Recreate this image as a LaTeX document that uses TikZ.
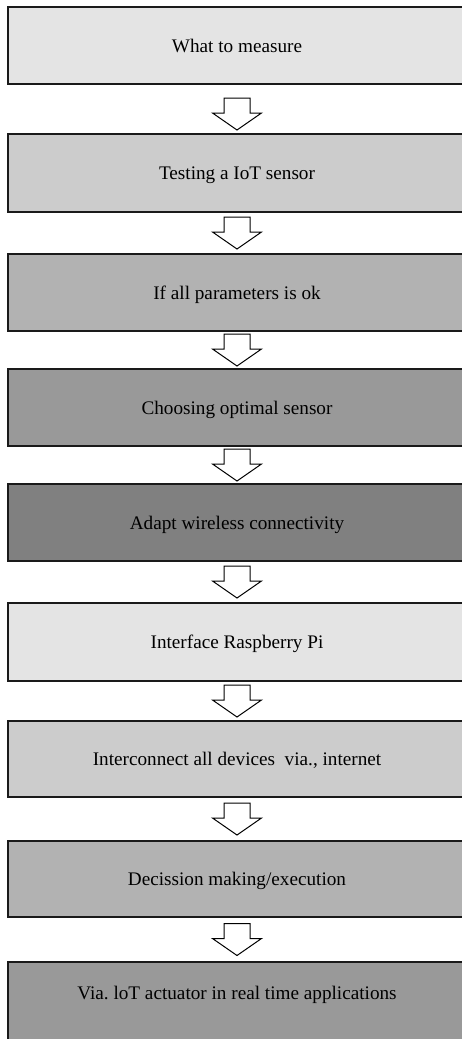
\documentclass[tikz,border=0pt]{standalone}
\usepackage{fontspec}
\setmainfont{Liberation Serif}
\usetikzlibrary{calc}
\definecolor{g1}{HTML}{E4E4E4}
\definecolor{g2}{HTML}{CCCCCC}
\definecolor{g3}{HTML}{B2B2B2}
\definecolor{g4}{HTML}{999999}
\definecolor{g5}{HTML}{808080}
\definecolor{edge}{HTML}{1A1A1A}
\newcommand\blockarrow[3][0]{%
  \draw[arrowshape] ($(#2.south)!0.5!(#3.north)+(0,#1)$) ++(-13,-16) -- ++(26,0) -- ++(0,15) -- ++(11.5,0) -- ++(-24.5,17) -- ++(-24.5,-17) -- ++(11.5,0) -- cycle;}
\begin{document}
\begin{tikzpicture}[x=1pt,y=-1pt,
  stepbox/.style={draw=edge, line width=1.3pt, minimum width=458pt, inner sep=0pt,
    font=\fontsize{19.2}{22}\selectfont\frenchspacing, text height=13.5pt, text depth=0pt},
  arrowshape/.style={draw=black, line width=1pt, fill=white, line join=miter}]
\useasboundingbox (0,0) rectangle (462,1039);
\fill[white] (0,0) rectangle (462,1039);
\node[stepbox, fill=g1, minimum height=77pt] (b1) at (237,45.5) {What to measure};
\node[stepbox, fill=g2, minimum height=78pt] (b2) at (237,173) {Testing a IoT sensor};
\node[stepbox, fill=g3, minimum height=77pt] (b3) at (237,292.5) {If all parameters is ok};
\node[stepbox, fill=g4, minimum height=77pt] (b4) at (237,407.5) {Choosing optimal sensor};
\node[stepbox, fill=g5, minimum height=77pt] (b5) at (237,522.5) {Adapt wireless connectivity};
\node[stepbox, fill=g1, minimum height=78pt] (b6) at (237,642) {Interface Raspberry Pi};
\node[stepbox, fill=g2, minimum height=76pt] (b7) at (237,759) {Interconnect all devices~~via., internet};
\node[stepbox, fill=g3, minimum height=76pt] (b8) at (237,879) {Decission making/execution};
\node[stepbox, fill=g4, minimum height=82pt, text depth=21pt] (b9) at (237,1003) {Via. loT actuator in real time applications};
\blockarrow[5]{b1}{b2}
\blockarrow{b2}{b3}
\blockarrow{b3}{b4}
\blockarrow{b4}{b5}
\blockarrow{b5}{b6}
\blockarrow{b6}{b7}
\blockarrow{b7}{b8}
\blockarrow{b8}{b9}
\end{tikzpicture}
\end{document}
